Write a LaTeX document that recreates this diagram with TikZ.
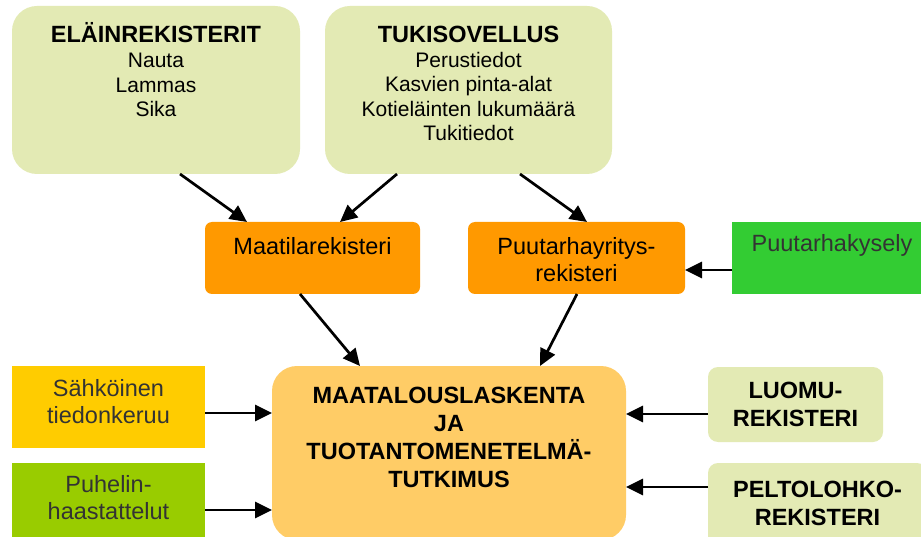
\documentclass[tikz,border=0pt]{standalone}
\usepackage{fontspec}
\setmainfont{Liberation Sans}
\usetikzlibrary{arrows.meta}
\definecolor{lgreen}{RGB}{227,234,180}
\definecolor{orng}{RGB}{255,153,0}
\definecolor{mainc}{RGB}{255,204,102}
\definecolor{yell}{RGB}{255,204,0}
\definecolor{bgreen}{RGB}{51,204,51}
\definecolor{ygreen}{RGB}{153,204,0}
\definecolor{dgray}{RGB}{51,51,51}
\tikzset{
  box/.style={rectangle,inner sep=0pt,outer sep=0pt,anchor=north west,draw=none},
  txt/.style={anchor=base,inner sep=0pt,align=center},
  big/.style={font=\fontsize{23.5}{27}\selectfont},
  bigb/.style={font=\fontsize{23.5}{28}\selectfont\bfseries},
  small/.style={font=\fontsize{21}{24.3}\selectfont},
  arr/.style={line width=2.7pt,-{Triangle[length=17pt,width=16pt]}}
}
\begin{document}
\begin{tikzpicture}[x=1pt,y=-1pt]
\clip (0,0) rectangle (921,537);
\fill[white] (0,0) rectangle (921,537);
% boxes
\node[box,fill=lgreen,rounded corners=25pt,minimum width=288pt,minimum height=168pt] (elain) at (12,6) {};
\node[box,fill=lgreen,rounded corners=25pt,minimum width=287pt,minimum height=168pt] (tuki) at (325,6) {};
\node[box,fill=orng,rounded corners=7pt,minimum width=215pt,minimum height=72pt] (maat) at (205,222) {};
\node[box,fill=orng,rounded corners=7pt,minimum width=217pt,minimum height=72pt] (puut) at (468,222) {};
\node[box,fill=bgreen,minimum width=200pt,minimum height=72pt] (kysely) at (732,222) {};
\node[box,fill=yell,minimum width=193pt,minimum height=82pt] (sahk) at (12,366) {};
\node[box,fill=ygreen,minimum width=193pt,minimum height=92pt] (puh) at (12,463) {};
\node[box,fill=mainc,rounded corners=25pt,minimum width=354pt,minimum height=174pt] (main) at (272,366) {};
\node[box,fill=lgreen,rounded corners=10pt,minimum width=175pt,minimum height=75pt] (luomu) at (708,367) {};
\node[box,fill=lgreen,rounded corners=10pt,minimum width=219pt,minimum height=92pt] (pelto) at (708,463) {};
% texts (base anchor = baseline of last line)
\node[txt,bigb] at (156,43) {ELÄINREKISTERIT};
\node[txt,small] at (156,116.6) {Nauta\\Lammas\\Sika};
\node[txt,bigb] at (468.5,43) {TUKISOVELLUS};
\node[txt,small] at (468.5,140.6) {Perustiedot\\Kasvien pinta-alat\\Kotieläinten lukumäärä\\Tukitiedot};
\node[txt,big] at (312.5,255) {Maatilarekisteri};
\node[txt,big] at (576.5,282) {Puutarhayritys-\\rekisteri};
\node[txt,big,text=dgray] at (832,252) {Puutarhakysely};
\node[txt,big,text=dgray] at (108.5,423) {Sähköinen\\tiedonkeruu};
\node[txt,big,text=dgray] at (108.5,519) {Puhelin-\\haastattelut};
\node[txt,bigb] at (449,487) {MAATALOUSLASKENTA\\JA\\TUOTANTOMENETELMÄ-\\TUTKIMUS};
\node[txt,bigb] at (795.5,426) {LUOMU-\\REKISTERI};
\node[txt,bigb] at (817.5,525) {PELTOLOHKO-\\REKISTERI};
% arrows
\draw[arr] ([xshift=24pt]elain.south) -- ([xshift=-65.5pt]maat.north);
\draw[arr] ([xshift=-71.5pt]tuki.south) -- ([xshift=27.5pt]maat.north);
\draw[arr] ([xshift=51.5pt]tuki.south) -- ([xshift=10.5pt]puut.north);
\draw[arr] ([yshift=-12pt]kysely.west) -- ([yshift=-12pt]puut.east);
\draw[arr] ([xshift=-12.5pt]maat.south) -- ([xshift=-89pt]main.north);
\draw[arr] ([xshift=0.5pt]puut.south) -- ([xshift=91pt]main.north);
\coordinate (s1) at ([yshift=-6pt]sahk.east);
\coordinate (s2) at ([yshift=-1pt]puh.east);
\coordinate (r1) at ([yshift=-9.5pt]luomu.west);
\coordinate (r2) at ([yshift=22pt]pelto.west);
\draw[arr] (s1) -- (s1 -| main.west);
\draw[arr] (s2) -- (s2 -| main.west);
\draw[arr] (r1) -- (r1 -| main.east);
\draw[arr] (r2) -- (r2 -| main.east);
\end{tikzpicture}
\end{document}
